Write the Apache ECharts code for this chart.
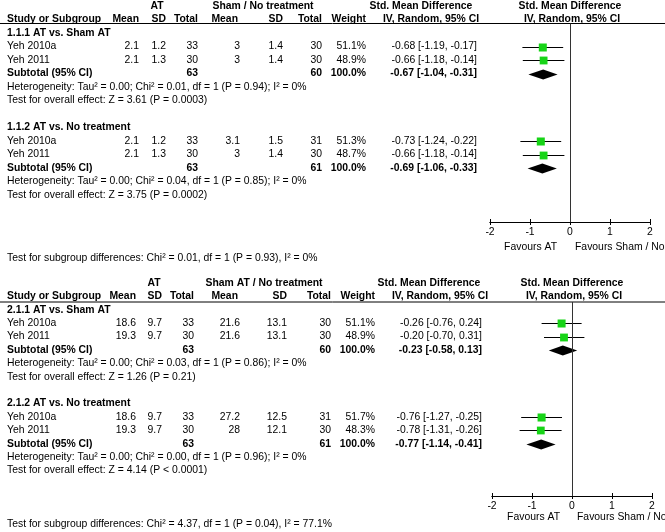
<!DOCTYPE html>
<html><head><meta charset="utf-8">
<script src="https://cdn.jsdelivr.net/npm/echarts@6/dist/echarts.min.js"></script>
<style>html,body{margin:0;padding:0;background:#fff}#c{width:665px;height:532px}</style>
</head><body><div id="c"></div>
<script>
// ---------- DATA ----------
const studyNames = ['Yeh 2010a', 'Yeh 2011', 'Yeh 2010a', 'Yeh 2011'];
const tickValues = [-2, -1, 0, 1, 2];

// Panel 1
const p1ControlLabel = 'Sham / No treatment';
const p1Subgroups = ['1.1.1 AT vs. Sham AT', '1.1.2 AT vs. No treatment'];
const p1Mean1 = [2.1, 2.1, 2.1, 2.1];
const p1SD1 = [1.2, 1.3, 1.2, 1.3];
const p1N1 = [33, 30, 33, 30];
const p1Mean2 = [3, 3, 3.1, 3];
const p1SD2 = [1.4, 1.4, 1.5, 1.4];
const p1N2 = [30, 30, 31, 30];
const p1Weight = [51.1, 48.9, 51.3, 48.7];
const p1Smd = [-0.68, -0.66, -0.73, -0.66];
const p1Lo = [-1.19, -1.18, -1.24, -1.18];
const p1Hi = [-0.17, -0.14, -0.22, -0.14];
const p1SubN1 = [63, 63];
const p1SubN2 = [60, 61];
const p1SubSmd = [-0.67, -0.69];
const p1SubLo = [-1.04, -1.06];
const p1SubHi = [-0.31, -0.33];
const p1Het = ['Heterogeneity: Tau\u00b2 = 0.00; Chi\u00b2 = 0.01, df = 1 (P = 0.94); I\u00b2 = 0%',
               'Heterogeneity: Tau\u00b2 = 0.00; Chi\u00b2 = 0.04, df = 1 (P = 0.85); I\u00b2 = 0%'];
const p1Overall = ['Test for overall effect: Z = 3.61 (P = 0.0003)', 'Test for overall effect: Z = 3.75 (P = 0.0002)'];
const p1SubgroupTest = 'Test for subgroup differences: Chi\u00b2 = 0.01, df = 1 (P = 0.93), I\u00b2 = 0%';

// Panel 2
const p2ControlLabel = 'Sham AT / No treatment';
const p2Subgroups = ['2.1.1 AT vs. Sham AT', '2.1.2 AT vs. No treatment'];
const p2Mean1 = [18.6, 19.3, 18.6, 19.3];
const p2SD1 = [9.7, 9.7, 9.7, 9.7];
const p2N1 = [33, 30, 33, 30];
const p2Mean2 = [21.6, 21.6, 27.2, 28];
const p2SD2 = [13.1, 13.1, 12.5, 12.1];
const p2N2 = [30, 30, 31, 30];
const p2Weight = [51.1, 48.9, 51.7, 48.3];
const p2Smd = [-0.26, -0.20, -0.76, -0.78];
const p2Lo = [-0.76, -0.70, -1.27, -1.31];
const p2Hi = [0.24, 0.31, -0.25, -0.26];
const p2SubN1 = [63, 63];
const p2SubN2 = [60, 61];
const p2SubSmd = [-0.23, -0.77];
const p2SubLo = [-0.58, -1.14];
const p2SubHi = [0.13, -0.41];
const p2Het = ['Heterogeneity: Tau\u00b2 = 0.00; Chi\u00b2 = 0.03, df = 1 (P = 0.86); I\u00b2 = 0%',
               'Heterogeneity: Tau\u00b2 = 0.00; Chi\u00b2 = 0.00, df = 1 (P = 0.96); I\u00b2 = 0%'];
const p2Overall = ['Test for overall effect: Z = 1.26 (P = 0.21)', 'Test for overall effect: Z = 4.14 (P < 0.0001)'];
const p2SubgroupTest = 'Test for subgroup differences: Chi\u00b2 = 4.37, df = 1 (P = 0.04), I\u00b2 = 77.1%';

// ---------- LAYOUT ----------
const FONT = '"Liberation Sans", Arial, Helvetica, sans-serif';
const FS = 10.4;
const panels = [
  { ctl: p1ControlLabel, sub: p1Subgroups, m1: p1Mean1, s1: p1SD1, n1: p1N1, m2: p1Mean2, s2: p1SD2, n2: p1N2,
    w: p1Weight, smd: p1Smd, lo: p1Lo, hi: p1Hi, sn1: p1SubN1, sn2: p1SubN2, ssmd: p1SubSmd, slo: p1SubLo, shi: p1SubHi,
    het: p1Het, ov: p1Overall, sgt: p1SubgroupTest,
    L: { y0: 6, dy: 13.5, top: 23.5, bottom: 222, left: 490, width: 160,
         c: { m1: 139, s1: 166, n1: 198, m2: 240, s2: 283, n2: 322, w: 366, ci: 477 },
         hAT: 157, hCtl: 263, hStd: 421, hIV: 431, pStd: 570, pIV: 572,
         favL: 557, favR: 575, favY: 247, sgtY: 258 } },
  { ctl: p2ControlLabel, sub: p2Subgroups, m1: p2Mean1, s1: p2SD1, n1: p2N1, m2: p2Mean2, s2: p2SD2, n2: p2N2,
    w: p2Weight, smd: p2Smd, lo: p2Lo, hi: p2Hi, sn1: p2SubN1, sn2: p2SubN2, ssmd: p2SubSmd, slo: p2SubLo, shi: p2SubHi,
    het: p2Het, ov: p2Overall, sgt: p2SubgroupTest,
    L: { y0: 283, dy: 13.4, top: 302, bottom: 496, left: 492, width: 160,
         c: { m1: 136, s1: 162, n1: 194, m2: 240, s2: 287, n2: 331, w: 375, ci: 482 },
         hAT: 154, hCtl: 264, hStd: 429, hIV: 440, pStd: 572, pIV: 574,
         favL: 560, favR: 577, favY: 517, sgtY: 524 } }
];

const graphics = [];
function T(x, y, text, align, bold) {
  graphics.push({ type: 'text', x: x, y: y, silent: true,
    style: { text: String(text), fill: '#000', font: (bold ? 'bold ' : '') + FS + 'px ' + FONT,
             textAlign: align || 'left', textVerticalAlign: 'middle', align: align || 'left', verticalAlign: 'middle' } });
}
function ciText(e, l, h) { return e.toFixed(2) + ' [' + l.toFixed(2) + ', ' + h.toFixed(2) + ']'; }

const grids = [], xAxes = [], yAxes = [], series = [];
panels.forEach((P, pi) => {
  const L = P.L, c = L.c;
  const Y = k => L.y0 + k * L.dy;
  // header row 1
  T(L.hAT, Y(0), 'AT', 'center', true);
  T(L.hCtl, Y(0), P.ctl, 'center', true);
  T(L.hStd, Y(0), 'Std. Mean Difference', 'center', true);
  T(L.pStd, Y(0), 'Std. Mean Difference', 'center', true);
  // header row 2
  T(7, Y(1), 'Study or Subgroup', 'left', true);
  T(c.m1, Y(1), 'Mean', 'right', true);
  T(c.s1, Y(1), 'SD', 'right', true);
  T(c.n1, Y(1), 'Total', 'right', true);
  T(c.m2 - 2, Y(1), 'Mean', 'right', true);
  T(c.s2, Y(1), 'SD', 'right', true);
  T(c.n2, Y(1), 'Total', 'right', true);
  T(c.w, Y(1), 'Weight', 'right', true);
  T(L.hIV, Y(1), 'IV, Random, 95% CI', 'center', true);
  T(L.pIV, Y(1), 'IV, Random, 95% CI', 'center', true);
  graphics.push({ type: 'line', silent: true, shape: { x1: 0, y1: L.top, x2: 665, y2: L.top }, style: { stroke: '#000', lineWidth: 1 } });

  const marks = [];
  P.sub.forEach((title, s) => {
    const base = 2 + 7 * s;
    T(7, Y(base), title, 'left', true);
    for (let j = 0; j < 2; j++) {
      const i = s * 2 + j, k = base + 1 + j;
      T(7, Y(k), studyNames[i], 'left', false);
      T(c.m1, Y(k), P.m1[i], 'right');
      T(c.s1, Y(k), P.s1[i], 'right');
      T(c.n1, Y(k), P.n1[i], 'right');
      T(c.m2, Y(k), P.m2[i], 'right');
      T(c.s2, Y(k), P.s2[i], 'right');
      T(c.n2, Y(k), P.n2[i], 'right');
      T(c.w, Y(k), P.w[i].toFixed(1) + '%', 'right');
      T(c.ci, Y(k), ciText(P.smd[i], P.lo[i], P.hi[i]), 'right');
      marks.push([k, P.smd[i], P.lo[i], P.hi[i], P.w[i], 0]);
    }
    const ks = base + 3;
    T(7, Y(ks), 'Subtotal (95% CI)', 'left', true);
    T(c.n1, Y(ks), P.sn1[s], 'right', true);
    T(c.n2, Y(ks), P.sn2[s], 'right', true);
    T(c.w, Y(ks), '100.0%', 'right', true);
    T(c.ci, Y(ks), ciText(P.ssmd[s], P.slo[s], P.shi[s]), 'right', true);
    marks.push([ks, P.ssmd[s], P.slo[s], P.shi[s], 100, 1]);
    T(7, Y(base + 4), P.het[s], 'left');
    T(7, Y(base + 5), P.ov[s], 'left');
  });
  T(L.favL, L.favY, 'Favours AT', 'right');
  T(L.favR, L.favY, 'Favours Sham / No', 'left');
  T(7, L.sgtY, P.sgt, 'left');

  grids.push({ left: L.left, top: L.top, width: L.width, height: L.bottom - L.top });
  const axBase = { gridIndex: pi, type: 'value', min: tickValues[0], max: tickValues[tickValues.length - 1], interval: 1,
    position: 'bottom', splitLine: { show: false },
    axisLine: { show: true, onZero: false, lineStyle: { color: '#000', width: 1 } } };
  xAxes.push(Object.assign({}, axBase, {
    axisTick: { show: true, length: 3, lineStyle: { color: '#000' } },
    axisLabel: { show: true, margin: 5, color: '#000', fontSize: FS, fontFamily: FONT,
                 formatter: v => tickValues.includes(v) ? String(v) : '' } }));
  xAxes.push(Object.assign({}, axBase, {
    axisTick: { show: true, inside: true, length: 3, lineStyle: { color: '#000' } },
    axisLabel: { show: false } }));
  yAxes.push({ gridIndex: pi, type: 'value', inverse: true, show: false,
    min: (L.top - L.y0) / L.dy, max: (L.bottom - L.y0) / L.dy, splitLine: { show: false } });

  series.push({
    type: 'custom', xAxisIndex: pi * 2, yAxisIndex: pi, data: marks, encode: { x: [1, 2, 3], y: 0 },
    silent: true, animation: false,
    renderItem: function (params, api) {
      const k = api.value(0), est = api.value(1), lo = api.value(2), hi = api.value(3), w = api.value(4), kind = api.value(5);
      const pE = api.coord([est, k]), pL = api.coord([lo, k]), pH = api.coord([hi, k]);
      const yy = Math.round(pE[1]) + 0.5;
      if (kind === 0) {
        const sz = 1.12 * Math.sqrt(w);
        return { type: 'group', children: [
          { type: 'line', shape: { x1: pL[0], y1: yy, x2: pH[0], y2: yy }, style: { stroke: '#000', lineWidth: 1 } },
          { type: 'rect', shape: { x: pE[0] - sz / 2, y: yy - sz / 2, width: sz, height: sz }, style: { fill: '#17d417' } }
        ] };
      }
      const h = 5;
      return { type: 'polygon', shape: { points: [[pL[0], yy], [pE[0], yy - h], [pH[0], yy], [pE[0], yy + h]] }, style: { fill: '#000' } };
    },
    markLine: { silent: true, symbol: ['none', 'none'], label: { show: false },
      lineStyle: { color: '#333', width: 1, type: 'solid' }, data: [{ xAxis: 0 }], animation: false }
  });
});

const chart = echarts.init(document.getElementById('c'), null, { renderer: 'canvas' });
chart.setOption({ animation: false, backgroundColor: '#fff', grid: grids, xAxis: xAxes, yAxis: yAxes, series: series, graphic: graphics });
</script></body></html>
